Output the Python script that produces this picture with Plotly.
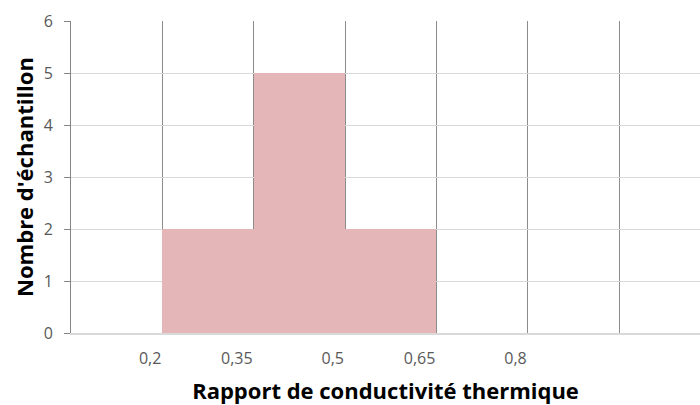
import plotly.graph_objects as go

# Histogram of thermal conductivity ratios (bin width 0.15)
bin_left = [0.20, 0.35, 0.50]
bin_width = 0.15
counts = [2, 5, 2]

tick_values = [0.20, 0.35, 0.50, 0.65, 0.80, 0.95]
tick_labels = ["0,2", "0,35", "0,5", "0,65", "0,8", ""]

centers = [b + bin_width / 2 for b in bin_left]

fig = go.Figure(
    go.Bar(
        x=centers,
        y=counts,
        width=[bin_width] * len(counts),
        marker=dict(color="#E4B6B7", line=dict(width=0)),
        hoverinfo="x+y",
    )
)

label_font = dict(family="Open Sans, Liberation Sans, sans-serif", size=16, color="#595959")
title_font = dict(family="Open Sans, Liberation Sans, sans-serif", size=22, color="#000000")

fig.update_layout(
    width=700,
    height=405,
    margin=dict(l=71, r=0, t=21, b=72),
    paper_bgcolor="white",
    plot_bgcolor="white",
    showlegend=False,
    bargap=0,
    xaxis=dict(
        range=[0.05, 1.083],
        tickmode="array",
        tickvals=tick_values,
        ticktext=tick_labels,
        ticklabelposition="outside left",
        ticklabelstandoff=10,
        ticks="",
        showgrid=True,
        gridcolor="#8C8C8C",
        gridwidth=1,
        showline=True,
        linecolor="#D9D9D9",
        linewidth=2,
        zeroline=False,
        tickfont=label_font,
        title=dict(text="<b>Rapport de conductivité thermique</b>", font=title_font, standoff=15),
    ),
    yaxis=dict(
        range=[0, 6],
        tickmode="linear",
        tick0=0,
        dtick=1,
        ticks="outside",
        ticklen=6,
        tickcolor="#868686",
        ticklabelstandoff=8,
        showgrid=True,
        gridcolor="#D9D9D9",
        gridwidth=1,
        showline=True,
        linecolor="#868686",
        linewidth=1,
        zeroline=False,
        tickfont=label_font,
        title=dict(text="<b>Nombre d'échantillon</b>", font=title_font, standoff=3),
    ),
)

fig.write_html("out.html")
